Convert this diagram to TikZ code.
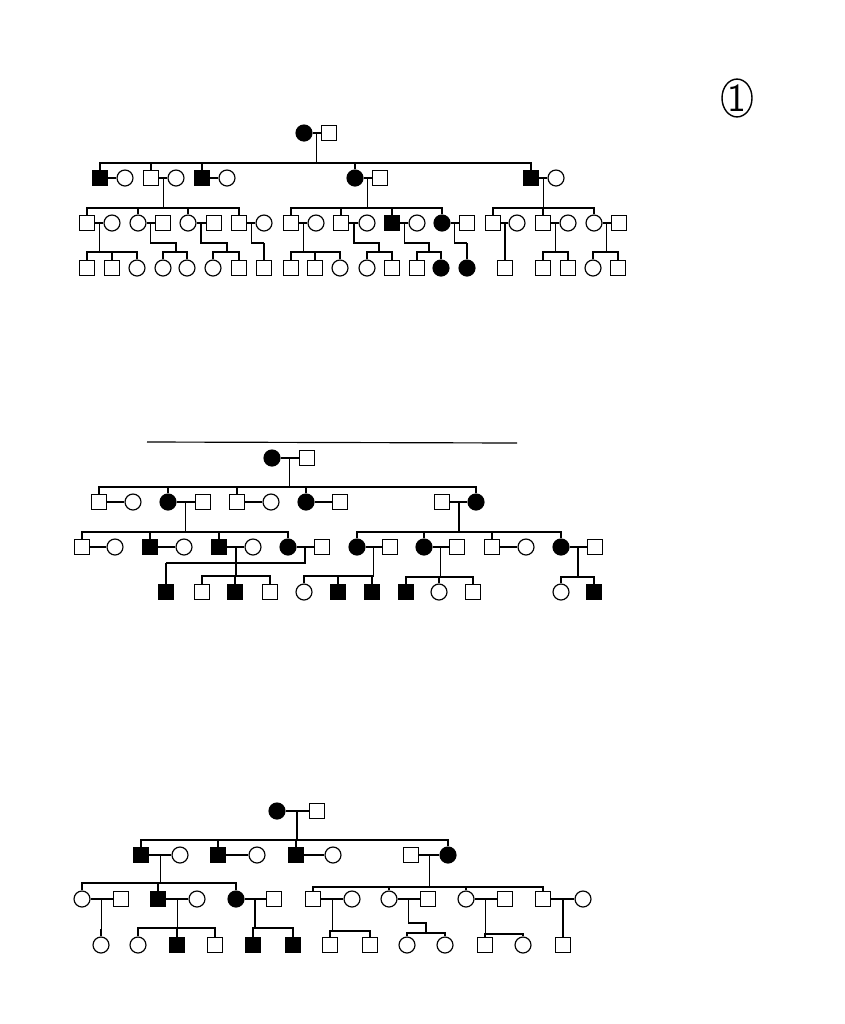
\documentclass[tikz,border=0pt]{standalone}
\usetikzlibrary{calc,shapes.geometric}
\newcommand\couple[3]{\draw (#1) -- (#2); \coordinate (#3) at ($(#1)!.5!(#2)$);}
\newcommand\kids[3]{%
  \draw (#1) -- (#1 |- 0,#2);
  \foreach \c in {#3} {\draw (#1 |- 0,#2) -| (\c.north);}}
\newcommand\jkids[5]{% mid, jog y, jog x, sib y, kids
  \draw (#1) |- (#3,#2) -- (#3,#4);
  \foreach \c in {#5} {\draw (#3,#4) -| (\c.north);}}
\begin{document}
\begin{tikzpicture}[x=0.03cm,y=-0.03cm,line width=1pt,
  mal/.style={draw,rectangle,minimum size=0.46cm,inner sep=0pt},
  malA/.style={mal,fill=black},
  fem/.style={draw,circle,minimum size=0.48cm,inner sep=0pt},
  femA/.style={fem,fill=black}]
\useasboundingbox (0,0) rectangle (845,1024);
% ---------- circled 1 ----------
\node[draw,ellipse,line width=1.2pt,minimum width=0.9cm,minimum height=1.12cm,inner sep=0pt,font=\sffamily\fontsize{34}{34}\selectfont] (num) at (737,98) {1};
% ================= Pedigree 1 =================
\node[femA] (a1) at (304,133) {}; \node[mal] (a2) at (329,133) {};
\foreach \n/\s/\x in {b1/malA/100,b2/fem/125,b3/mal/151,b4/fem/176,b5/malA/202,b6/fem/227,b7/femA/355,b8/mal/380,b9/malA/531,b10/fem/556}
  {\node[\s] (\n) at (\x,178) {};}
\foreach \n/\s/\x in {c1/mal/87,c2/fem/112,c3/fem/138,c4/mal/163,c5/fem/188,c6/mal/214,c7/mal/239,c8/fem/264,c9/mal/291,c10/fem/316,c11/mal/341,c12/fem/367,c13/malA/392,c14/fem/417,c15/femA/442,c16/mal/467,c17/mal/493,c18/fem/517,c19/mal/543,c20/fem/568,c21/fem/594,c22/mal/619}
  {\node[\s] (\n) at (\x,223) {};}
\foreach \n/\s/\x in {d1/mal/87,d2/mal/112,d3/fem/137,d4/fem/163,d5/fem/187,d6/fem/213,d7/mal/239,d8/mal/264,d9/mal/291,d10/mal/315,d11/fem/340,d12/fem/367,d13/mal/392,d14/mal/417,d15/femA/441,d16/femA/467,d17/mal/505,d18/mal/543,d19/mal/568,d20/fem/593,d21/mal/618}
  {\node[\s] (\n) at (\x,268) {};}
\couple{a1}{a2}{ma}
\kids{ma}{163}{b1,b3,b5,b7,b9}
\couple{b1}{b2}{mb1} \couple{b3}{b4}{mb2} \couple{b5}{b6}{mb3} \couple{b7}{b8}{mb4} \couple{b9}{b10}{mb5}
\kids{mb2}{208}{c1,c3,c5,c7}
\kids{mb4}{208}{c9,c11,c13,c15}
\kids{mb5}{208}{c17,c19,c21}
\couple{c1}{c2}{mc1} \couple{c3}{c4}{mc2} \couple{c5}{c6}{mc3} \couple{c7}{c8}{mc4}
\couple{c9}{c10}{mc5} \couple{c11}{c12}{mc6} \couple{c13}{c14}{mc7} \couple{c15}{c16}{mc8}
\couple{c17}{c18}{mc9} \couple{c19}{c20}{mc10} \couple{c21}{c22}{mc11}
\kids{mc1}{252}{d1,d2,d3}
\jkids{mc2}{243}{176}{252}{d4,d5}
\jkids{mc3}{243}{227}{252}{d6,d7}
\jkids{mc4}{243}{264}{243}{d8}
\kids{mc5}{252}{d9,d10,d11}
\jkids{mc6}{243}{379}{252}{d12,d13}
\jkids{mc7}{243}{429}{252}{d14,d15}
\jkids{mc8}{243}{467}{243}{d16}
\kids{mc9}{252}{d17}
\kids{mc10}{252}{d18,d19}
\kids{mc11}{252}{d20,d21}
% ================= Pedigree 2 =================
\coordinate (tl) at (147,442); \coordinate (tr) at (517,443);
\draw[line width=1pt] (tl) -- (tr);
\node[femA] (e1) at (272,458) {}; \node[mal] (e2) at (307,458) {};
\foreach \n/\s/\x in {f1/mal/99,f2/fem/133,f3/femA/168,f4/mal/203,f5/mal/237,f6/fem/271,f7/femA/306,f8/mal/340,f9/mal/442,f10/femA/476}
  {\node[\s] (\n) at (\x,502) {};}
\foreach \n/\s/\x in {g1/mal/82,g2/fem/115,g3/malA/150,g4/fem/184,g5/malA/219,g6/fem/253,g7/femA/288,g8/mal/322,g9/femA/357,g10/mal/390,g11/femA/424,g12/mal/457,g13/mal/492,g14/fem/526,g15/femA/561,g16/mal/595}
  {\node[\s] (\n) at (\x,547) {};}
\foreach \n/\s/\x in {h1/malA/166,h2/mal/202,h3/malA/235,h4/mal/270,h5/fem/304,h6/malA/338,h7/malA/372,h8/malA/406,h9/fem/439,h10/mal/473,h11/fem/561,h12/malA/594}
  {\node[\s] (\n) at (\x,592) {};}
\couple{e1}{e2}{me}
\kids{me}{487}{f1,f3,f5,f7,f10}
\couple{f1}{f2}{mf1} \couple{f3}{f4}{mf2} \couple{f5}{f6}{mf3} \couple{f7}{f8}{mf4} \couple{f9}{f10}{mf5}
\kids{mf2}{532}{g1,g3,g5,g7}
\kids{mf5}{532}{g9,g11,g13,g15}
\couple{g1}{g2}{mg1} \couple{g3}{g4}{mg2} \couple{g5}{g6}{mg3} \couple{g7}{g8}{mg4}
\couple{g9}{g10}{mg5} \couple{g11}{g12}{mg6} \couple{g13}{g14}{mg7} \couple{g15}{g16}{mg8}
\kids{mg3}{576}{h2,h3,h4}
\jkids{mg4}{563}{166}{563}{h1}
\kids{mg5}{576}{h5,h6,h7}
\kids{mg6}{577}{h8,h9,h10}
\kids{mg8}{577}{h11,h12}
% ================= Pedigree 3 =================
\node[femA] (k1) at (277,811) {}; \node[mal] (k2) at (317,811) {};
\foreach \n/\s/\x in {l1/malA/141,l2/fem/180,l3/malA/218,l4/fem/257,l5/malA/296,l6/fem/333,l7/mal/411,l8/femA/448}
  {\node[\s] (\n) at (\x,855) {};}
\foreach \n/\s/\x in {m1/fem/82,m2/mal/121,m3/malA/158,m4/fem/197,m5/femA/236,m6/mal/274,m7/mal/313,m8/fem/352,m9/fem/389,m10/mal/428,m11/fem/466,m12/mal/505,m13/mal/543,m14/fem/583}
  {\node[\s] (\n) at (\x,899) {};}
\foreach \n/\s/\x in {n1/fem/101,n2/fem/138,n3/malA/177,n4/mal/215,n5/malA/253,n6/malA/293,n7/mal/330,n8/mal/370,n9/fem/407,n10/fem/445,n11/mal/485,n12/fem/523,n13/mal/563}
  {\node[\s] (\n) at (\x,945) {};}
\couple{k1}{k2}{mk}
\kids{mk}{840}{l1,l3,l5,l8}
\couple{l1}{l2}{ml1} \couple{l3}{l4}{ml2} \couple{l5}{l6}{ml3} \couple{l7}{l8}{ml4}
\kids{ml1}{883}{m1,m3,m5}
\kids{ml4}{887}{m7,m9,m11,m13}
\couple{m1}{m2}{mm1} \couple{m3}{m4}{mm2} \couple{m5}{m6}{mm3} \couple{m7}{m8}{mm4}
\couple{m9}{m10}{mm5} \couple{m11}{m12}{mm6} \couple{m13}{m14}{mm7}
\kids{mm1}{930}{n1}
\kids{mm2}{928}{n2,n3,n4}
\kids{mm3}{928}{n5,n6}
\kids{mm4}{931}{n7,n8}
\jkids{mm5}{923}{426}{933}{n9,n10}
\kids{mm6}{934}{n11,n12}
\kids{mm7}{934}{n13}
\end{tikzpicture}
\end{document}
